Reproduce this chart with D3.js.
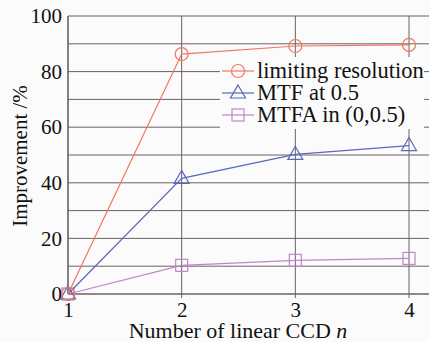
<!DOCTYPE html>
<html><head><meta charset="utf-8">
<script src="https://cdn.jsdelivr.net/npm/d3@7"></script>
<style>
body{margin:0;background:#fbfbfb}
svg{display:block}
svg text{font-family:"Liberation Serif" !important;fill:#111}
</style>
</head><body>
<script>
const categories = [1, 2, 3, 4];
const limitingResolution = [0, 86.3, 89.2, 89.6];
const mtfAt05 = [0, 41.6, 50.2, 53.4];
const mtfaIn005 = [0, 10.3, 12.1, 12.8];
const yTicks = [0, 20, 40, 60, 80, 100];
const yGrid = [10, 20, 30, 40, 50, 60, 70, 80, 90, 100];
const seriesNames = ["limiting resolution", "MTF at 0.5", "MTFA in (0,0.5)"];

const W = 429, H = 342;
const m = {left: 68, top: 16, bottom: 294};
const svg = d3.select("body").append("svg").attr("width", W).attr("height", H);
svg.append("rect").attr("width", W).attr("height", H).attr("fill", "#fbfbfb");

const x = d3.scaleLinear().domain([1, 4]).range([68, 409]);
const y = d3.scaleLinear().domain([0, 100]).range([294, 16]);

const grid = svg.append("g");
grid.selectAll("line.h").data(yGrid).join("line")
  .attr("x1", m.left).attr("x2", W).attr("y1", d => y(d)).attr("y2", d => y(d))
  .attr("stroke", "#6a6262").attr("stroke-width", 1);
grid.selectAll("line.v").data(categories.slice(1)).join("line")
  .attr("x1", d => x(d)).attr("x2", d => x(d)).attr("y1", y(100)).attr("y2", y(0) + 4)
  .attr("stroke", "#6a6262").attr("stroke-width", 1);

svg.append("line").attr("x1", m.left).attr("x2", m.left).attr("y1", y(100)).attr("y2", y(0))
  .attr("stroke", "#6a6262").attr("stroke-width", 1.6);
svg.append("line").attr("x1", m.left).attr("x2", W).attr("y1", y(0)).attr("y2", y(0))
  .attr("stroke", "#6a6262").attr("stroke-width", 1.6);

const yAxis = d3.axisLeft(y).tickValues(yTicks).tickSize(0).tickPadding(6);
const ga = svg.append("g").attr("transform", `translate(${m.left},0)`).call(yAxis);
ga.attr("font-family", null).attr("font-size", 21);
ga.select(".domain").remove();

const xAxis = d3.axisBottom(x).tickValues(categories).tickFormat(d3.format("d")).tickSize(0).tickPadding(8);
const gx = svg.append("g").attr("transform", `translate(0,${y(0)})`).call(xAxis);
gx.attr("font-family", null).attr("font-size", 21);
gx.select(".domain").remove();

const lg = svg.append("g");
lg.append("rect").attr("x", 220).attr("y", 57).attr("width", 204).attr("height", 72).attr("fill", "#fbfbfb");

const colors = ["#f2765e", "#5a68bb", "#c085c9"];
const data = [limitingResolution, mtfAt05, mtfaIn005];
const line = d3.line().x((d, i) => x(categories[i])).y(d => y(d));

function marker(g, k, cx, cy, c) {
  if (k === 0) g.append("circle").attr("cx", cx).attr("cy", cy).attr("r", 6.5).attr("fill", "none").attr("stroke", c).attr("stroke-width", 1.2);
  else if (k === 1) g.append("path").attr("d", `M${cx},${cy-8}L${cx+7.5},${cy+5}L${cx-7.5},${cy+5}Z`).attr("fill", "none").attr("stroke", c).attr("stroke-width", 1.2);
  else g.append("rect").attr("x", cx-6).attr("y", cy-6).attr("width", 12).attr("height", 12).attr("fill", "none").attr("stroke", c).attr("stroke-width", 1.2);
}

[2, 1, 0].forEach(k => {
  const g = svg.append("g");
  g.append("path").attr("d", line(data[k])).attr("fill", "none").attr("stroke", colors[k]).attr("stroke-width", 1.2);
  data[k].forEach((v, i) => marker(g, k, x(categories[i]), y(v), colors[k]));
});

seriesNames.forEach((name, k) => {
  const cy = 71 + k * 22;
  lg.append("line").attr("x1", 222).attr("x2", 254).attr("y1", cy).attr("y2", cy).attr("stroke", colors[k]).attr("stroke-width", 1.2);
  marker(lg, k, 238, cy, colors[k]);
  lg.append("text").attr("x", 257).attr("y", cy + 7).attr("font-size", 22.5).text(name);
});

const xt = svg.append("text").attr("x", 238).attr("y", 337.5).attr("text-anchor", "middle").attr("font-size", 22);
xt.append("tspan").text("Number of linear CCD ");
xt.append("tspan").attr("font-style", "italic").text("n");

svg.append("text").attr("transform", "translate(26.5,156) rotate(-90)").attr("text-anchor", "middle")
  .attr("font-size", 21).text("Improvement /%");
</script>
</body></html>
